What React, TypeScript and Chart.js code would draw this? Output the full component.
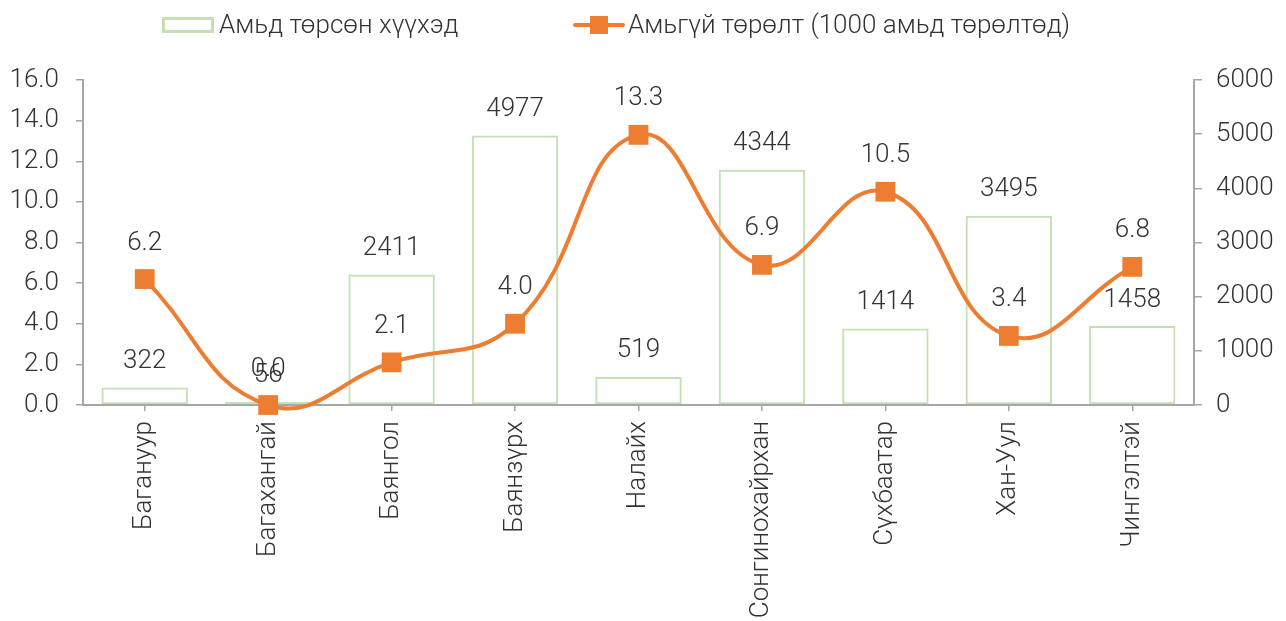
import React, { useEffect, useRef } from "react";
import { Chart, registerables } from "chart.js";

Chart.register(...registerables);

const categories = [
  "Багануур",
  "Багахангай",
  "Баянгол",
  "Баянзүрх",
  "Налайх",
  "Сонгинохайрхан",
  "Сүхбаатар",
  "Хан-Уул",
  "Чингэлтэй",
];
const liveBirths = [322, 56, 2411, 4977, 519, 4344, 1414, 3495, 1458];
const stillbirthRate = [6.2, 0.0, 2.1, 4.0, 13.3, 6.9, 10.5, 3.4, 6.8];
const barLabel = "Амьд төрсөн хүүхэд";
const lineLabel = "Амьгүй төрөлт (1000 амьд төрөлтөд)";

const FONT = "Roboto";
const FS = 26;
const TEXT = "#333333";
const GREEN = "#c5e0b4";
const ORANGE = "#ed7d31";
const AXIS = "#a6a6a6";

const dataLabelPlugin = {
  id: "dataLabels",
  afterDatasetsDraw(chart: any) {
    const ctx = chart.ctx;
    ctx.save();
    ctx.font = `300 ${FS}px ${FONT}`;
    ctx.fillStyle = TEXT;
    ctx.textAlign = "center";
    ctx.textBaseline = "middle";
    chart.data.datasets.forEach((ds: any, i: number) => {
      const meta = chart.getDatasetMeta(i);
      meta.data.forEach((el: any, j: number) => {
        const v = ds.data[j];
        if (ds.type === "bar") {
          ctx.fillText(String(v), el.x, el.y - 26);
        } else {
          ctx.fillText(Number(v).toFixed(1), el.x, el.y - 36);
        }
      });
    });
    ctx.restore();
  },
};

const legendPlugin = {
  id: "customLegend",
  afterDraw(chart: any) {
    const ctx = chart.ctx;
    ctx.save();
    ctx.font = `300 ${FS}px ${FONT}`;
    ctx.textBaseline = "middle";
    ctx.textAlign = "left";
    const y = 25;
    let x = 162;
    // bar item
    ctx.strokeStyle = GREEN;
    ctx.lineWidth = 3;
    ctx.strokeRect(x + 1.5, y - 6.5, 49, 13);
    ctx.fillStyle = TEXT;
    ctx.fillText(barLabel, x + 57, y + 1);
    x = 573;
    // line item
    ctx.strokeStyle = ORANGE;
    ctx.lineWidth = 4;
    ctx.lineCap = "round";
    ctx.beginPath();
    ctx.moveTo(x + 2, y);
    ctx.lineTo(x + 50, y);
    ctx.stroke();
    ctx.fillStyle = ORANGE;
    ctx.fillRect(x + 17, y - 9, 18, 18);
    ctx.fillStyle = TEXT;
    ctx.fillText(lineLabel, x + 55, y + 1);
    ctx.restore();
  },
};

export default function App() {
  const ref = useRef<HTMLCanvasElement>(null);
  useEffect(() => {
    document.body.style.margin = "0";
    const canvas = ref.current!;
    const tickFont = { family: FONT, size: FS, weight: "300" as any };
    const chart = new Chart(canvas, {
      data: {
        labels: categories,
        datasets: [
          {
            type: "line" as const,
            label: lineLabel,
            data: stillbirthRate,
            yAxisID: "y",
            borderColor: ORANGE,
            backgroundColor: ORANGE,
            borderWidth: 4,
            tension: 0.45,
            pointStyle: "rect",
            pointRadius: 14,
            pointBorderWidth: 0,
            pointBackgroundColor: ORANGE,
            clip: false as any,
            order: 1,
          },
          {
            type: "bar" as const,
            label: barLabel,
            data: liveBirths,
            yAxisID: "y1",
            backgroundColor: "rgba(255,255,255,0)",
            borderColor: GREEN,
            borderWidth: 2,
            borderSkipped: false,
            categoryPercentage: 1,
            barPercentage: 0.7,
            order: 2,
          },
        ],
      } as any,
      options: {
        animation: false,
        responsive: false,
        maintainAspectRatio: false,
        layout: { padding: { top: 80, left: 0, right: 0, bottom: 0 } },
        elements: { line: { capBezierPoints: false } },
        plugins: {
          legend: { display: false },
          tooltip: { enabled: false },
        },
        scales: {
          x: {
            offset: true,
            grid: {
              display: true,
              drawOnChartArea: false,
              drawTicks: true,
              tickLength: 6,
              color: AXIS,
              lineWidth: 1.5,
              offset: false,
            },
            border: { display: true, color: AXIS, width: 2 },
            ticks: {
              maxRotation: 90,
              minRotation: 90,
              padding: 10,
              color: TEXT,
              font: tickFont,
              autoSkip: false,
            },
            afterFit(scale: any) {
              scale.height = 216;
            },
          },
          y: {
            position: "left",
            min: 0,
            max: 16,
            grid: {
              display: true,
              drawOnChartArea: false,
              tickLength: 7,
              color: AXIS,
              lineWidth: 1.5,
            },
            border: { display: true, color: AXIS, width: 2 },
            ticks: {
              stepSize: 2,
              padding: 17,
              color: TEXT,
              font: tickFont,
              callback: (v: any) => Number(v).toFixed(1),
            },
            afterFit(scale: any) {
              scale.width = 83;
            },
          },
          y1: {
            position: "right",
            min: 0,
            max: 6000,
            grid: {
              display: true,
              drawOnChartArea: false,
              tickLength: 8,
              color: AXIS,
              lineWidth: 1.5,
            },
            border: { display: true, color: AXIS, width: 2 },
            ticks: {
              stepSize: 1000,
              padding: 14,
              color: TEXT,
              font: tickFont,
              callback: (v: any) => String(v),
            },
            afterFit(scale: any) {
              scale.width = 92;
            },
          },
        },
      },
      plugins: [dataLabelPlugin, legendPlugin],
    });
    return () => chart.destroy();
  }, []);
  return (
    <div style={{ width: 1286, height: 621 }}>
      <canvas ref={ref} width={1286} height={621} style={{ display: "block" }} />
    </div>
  );
}
